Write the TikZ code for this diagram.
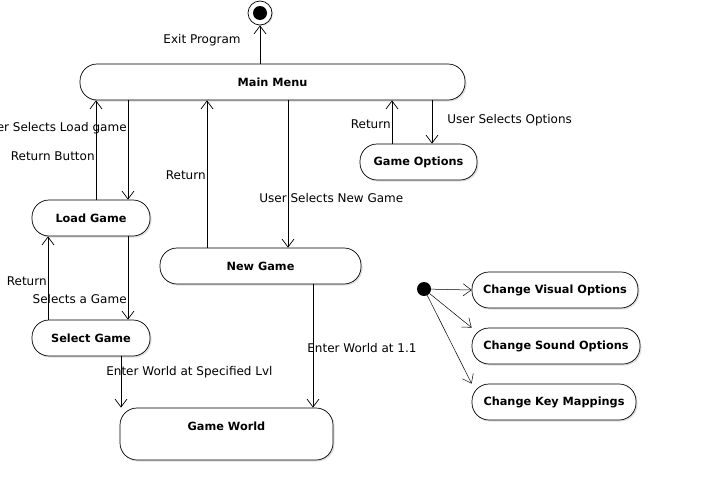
\documentclass[tikz,border=0pt]{standalone}
\usepackage{fontspec}
\setmainfont{DejaVu Sans}
\usetikzlibrary{arrows.meta,shadows}

\tikzset{
  state/.style={draw, line width=0.7pt, rounded corners=17pt, fill=white, inner sep=0pt,
    font=\fontsize{11.3}{13}\selectfont\bfseries,
    drop shadow={shadow xshift=1.5pt, shadow yshift=-1.5pt, opacity=0.25}},
  lbl/.style={font=\fontsize{12}{14}\selectfont, inner sep=1pt},
  trans/.style={-{Straight Barb[length=8pt, width=12pt]}, line width=0.7pt},
  thin trans/.style={-{Straight Barb[length=8pt, width=12pt]}, line width=0.5pt}
}

\begin{document}
\begin{tikzpicture}[x=1pt, y=-1pt]
    \useasboundingbox (0,0) rectangle (701,498);

    % Final and initial states
    \node[draw, circle, line width=0.7pt, fill=white, minimum size=24pt, inner sep=0pt,
      drop shadow={shadow xshift=1pt, shadow yshift=-1pt, opacity=0.25}] (end) at (260,13) {};
    \fill (end) circle (7);
    \node[circle, fill=black, minimum size=14pt, inner sep=0pt] (start) at (424,289) {};

    % States
    \node[state, minimum width=385pt, minimum height=36pt] (mm) at (272.5,82) {Main Menu};
    \node[state, minimum width=118pt, minimum height=36pt] (lg) at (91,218) {Load Game};
    \node[state, minimum width=117pt, minimum height=36pt] (go) at (418.5,162) {Game Options};
    \node[state, minimum width=201pt, minimum height=36pt] (ng) at (260.5,266) {New Game};
    \node[state, minimum width=118pt, minimum height=36pt] (sg) at (91,338) {Select Game};
    \node[state, minimum width=213pt, minimum height=52pt, text height=9pt, text depth=17pt] (gw) at (226.5,434) {Game World};

    % Option states
    \node[state, minimum width=166pt, minimum height=36pt] (cv) at (555,290) {Change Visual Options};
    \node[state, minimum width=168pt, minimum height=36pt] (cs) at (556,346) {Change Sound Options};
    \node[state, minimum width=164pt, minimum height=36pt] (ck) at (554,402) {Change Key Mappings};

    % Transitions
    \draw[trans] (mm.north -| end) -- (end.south) node[lbl, pos=0.62, left=18pt] {Exit Program};

    \draw[trans] (lg.north -| 96,0) -- (mm.south -| 96,0) node[lbl, pos=0.44, left] {Return Button};
    \draw[trans] (mm.south -| 128,0) -- (lg.north -| 128,0) node[lbl, pos=0.28, left] {User Selects Load game};

    \draw[trans] (ng.north -| 207,0) -- (mm.south -| 207,0) node[lbl, pos=0.49, left] {Return};
    \draw[trans] (mm.south -| 288,0) -- (ng.north -| 288,0) node[lbl, pos=0.66, anchor=west, xshift=-30pt] {User Selects New Game};

    \draw[trans] (go.north -| 392,0) -- (mm.south -| 392,0) node[lbl, pos=0.45, left] {Return};
    \draw[trans] (mm.south -| 432,0) -- (go.north -| 432,0) node[lbl, pos=0.45, anchor=west, xshift=14pt] {User Selects Options};

    \draw[trans] (sg.north -| 48,0) -- (lg.south -| 48,0) node[lbl, pos=0.46, left] {Return};
    \draw[trans] (lg.south -| 128,0) -- (sg.north -| 128,0) node[lbl, pos=0.75, left] {Selects a Game};

    \draw[trans] (sg.south -| 121,0) -- (gw.north -| 121,0) node[lbl, pos=0.31, anchor=west, xshift=-16pt] {Enter World at Specified Lvl};
    \draw[trans] (ng.south -| 313,0) -- (gw.north -| 313,0) node[lbl, pos=0.52, anchor=west, xshift=-7pt] {Enter World at 1.1};

    % Options
    \draw[thin trans] (start) -- (cv.west);
    \draw[thin trans] (start) -- (cs.north west);
    \draw[thin trans] (start) -- (ck.north west);
\end{tikzpicture}
\end{document}
